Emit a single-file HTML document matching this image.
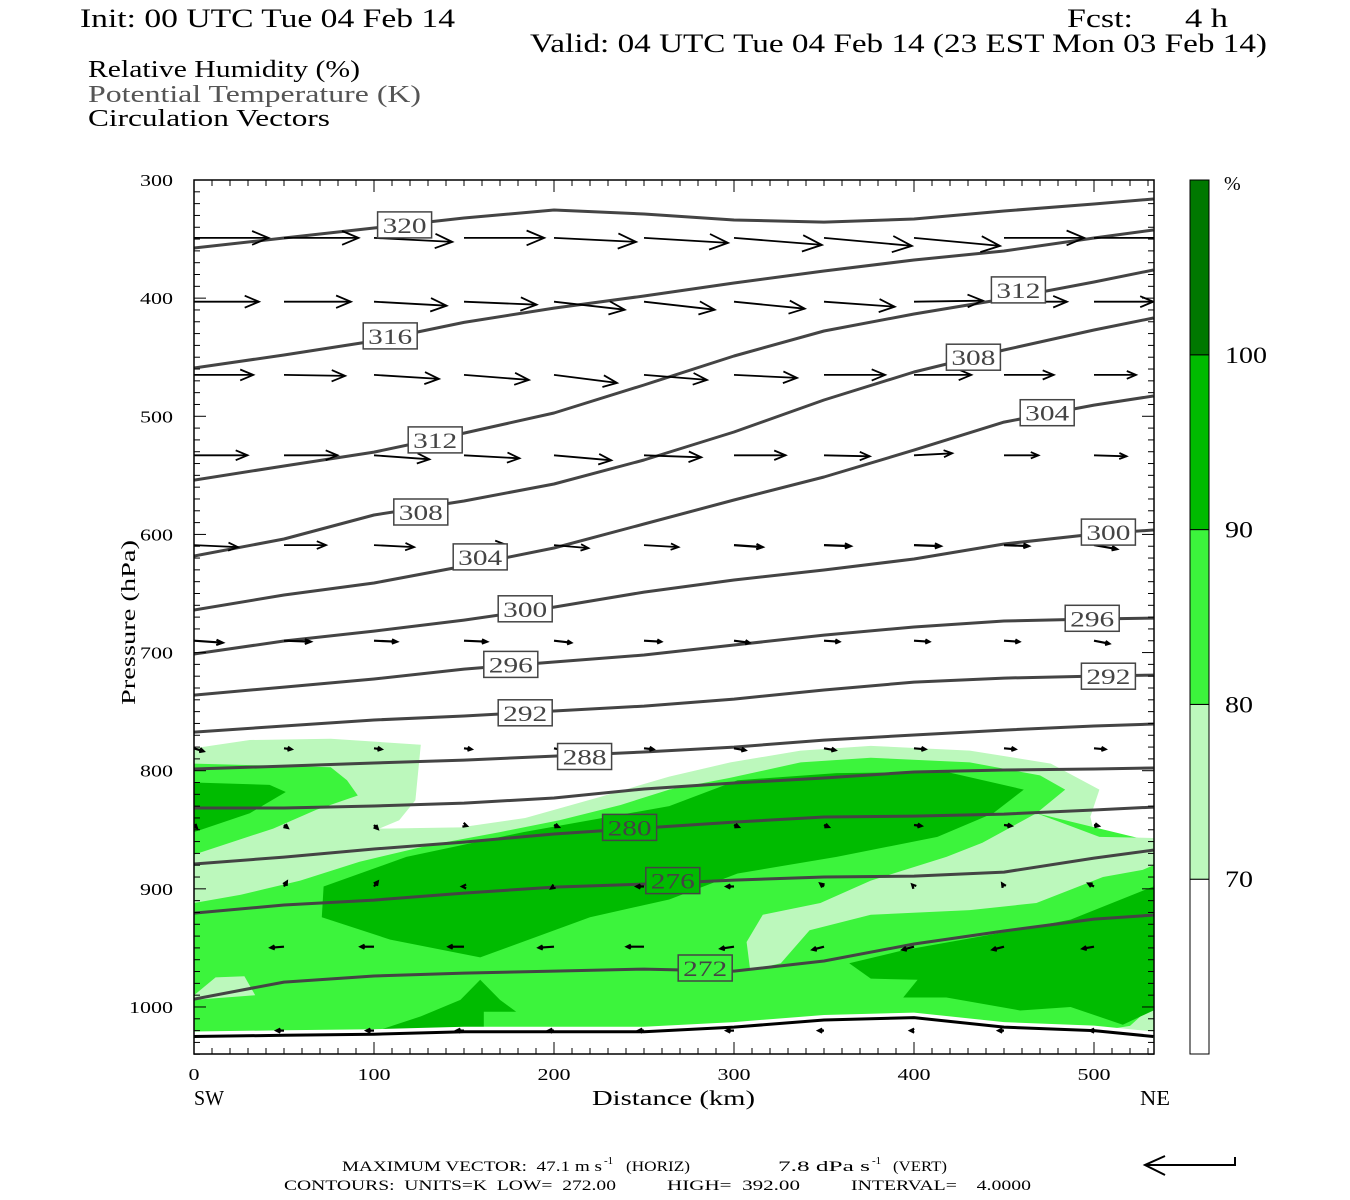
<!DOCTYPE html>
<html><head><meta charset="utf-8"><title>Cross section</title>
<style>
html,body{margin:0;padding:0;background:#fff;}
svg{display:block;font-family:"Liberation Serif",serif;}
svg text{white-space:pre;}
</style></head>
<body>
<svg id="chart" width="1350" height="1200" viewBox="0 0 1350 1200" xmlns="http://www.w3.org/2000/svg" xml:space="preserve">
<defs><clipPath id="plotclip"><rect x="194" y="180" width="960" height="874"/></clipPath></defs>
<g font-size="26" fill="#000">
<text x="80" y="27" textLength="375" lengthAdjust="spacingAndGlyphs">Init: 00 UTC Tue 04 Feb 14</text>
<text x="1067" y="27" textLength="66" lengthAdjust="spacingAndGlyphs">Fcst:</text>
<text x="1185" y="27" textLength="43" lengthAdjust="spacingAndGlyphs">4 h</text>
<text x="530" y="52" textLength="737" lengthAdjust="spacingAndGlyphs">Valid: 04 UTC Tue 04 Feb 14 (23 EST Mon 03 Feb 14)</text>
</g>
<g font-size="24">
<text x="88" y="77" textLength="272" lengthAdjust="spacingAndGlyphs">Relative Humidity (%)</text>
<text x="88" y="102" fill="#555" textLength="333" lengthAdjust="spacingAndGlyphs">Potential Temperature (K)</text>
<text x="88" y="126" textLength="242" lengthAdjust="spacingAndGlyphs">Circulation Vectors</text>
</g>
<g id="fills" clip-path="url(#plotclip)"></g>
<g id="contours" clip-path="url(#plotclip)"></g>
<g id="vectors" clip-path="url(#plotclip)"></g>
<g id="labels" clip-path="url(#plotclip)"></g>
<g id="axes"></g>
<g id="colorbar"></g>
<g>
<text x="592" y="1105" font-size="21" textLength="163" lengthAdjust="spacingAndGlyphs">Distance (km)</text>
<text x="194" y="1105" font-size="21" textLength="30" lengthAdjust="spacingAndGlyphs">SW</text>
<text x="1140" y="1105" font-size="21" textLength="30" lengthAdjust="spacingAndGlyphs">NE</text>
<text transform="translate(135,705) rotate(-90)" font-size="20" textLength="165" lengthAdjust="spacingAndGlyphs">Pressure (hPa)</text>
</g>
<g font-size="15">
<text x="342" y="1171" textLength="260" lengthAdjust="spacingAndGlyphs">MAXIMUM VECTOR:  47.1 m s</text>
<text x="604" y="1164" font-size="11">-1</text>
<text x="626" y="1171" textLength="64" lengthAdjust="spacingAndGlyphs">(HORIZ)</text>
<text x="778" y="1171" textLength="92" lengthAdjust="spacingAndGlyphs">7.8 dPa s</text>
<text x="872" y="1164" font-size="11">-1</text>
<text x="893" y="1171" textLength="54" lengthAdjust="spacingAndGlyphs">(VERT)</text>
<text x="284" y="1190" textLength="332" lengthAdjust="spacingAndGlyphs">CONTOURS:  UNITS=K  LOW=  272.00</text>
<text x="667" y="1190" textLength="133" lengthAdjust="spacingAndGlyphs">HIGH=  392.00</text>
<text x="851" y="1190" textLength="180" lengthAdjust="spacingAndGlyphs">INTERVAL=    4.0000</text>
<g stroke="#000" stroke-width="2" fill="none">
<polyline points="1235,1157 1235,1165 1145,1165"/>
<polyline points="1165,1156 1145,1165 1165,1175"/>
</g>
</g>
</svg>
<script>
// ---- axis data ----
const xTickKm = [0,100,200,300,400,500];
const yTickP = [300,400,500,600,700,800,900,1000];
const colKm = [0,50,100,150,200,250,300,350,400,450,500,533];
// ---- potential temperature contours (hPa at each colKm) ----
const thetaLevels = [320,316,312,308,304,300,296,292,288,284,280,276,272];
const p320 = [357.6,349.1,340.6,332.2,325.4,328.8,333.9,335.6,333,326.2,320.3,316.1];
const p316 = [459.1,448.1,436.3,420.5,408.4,398.2,387.2,377,367.7,360.1,349.1,342.3];
const p312 = [554,542.1,530.3,514.2,497.2,473.5,449,427.8,413.4,400.7,386.3,376.2];
const p308 = [618.3,603.9,583.6,571.7,557.3,537,513.3,486.2,462.5,443.9,427,416.8];
const p304 = [664,651.3,641.1,626.8,611.5,591.2,570.9,551.4,528.6,504.9,490.5,482.8];
const p300 = [701.2,690.2,681.8,672.5,661.5,648.8,638.6,630.1,620.8,608.1,599.7,596.3];
const p296 = [736,729.2,722.4,714,708,702.1,693.6,685.2,678.4,673.3,671.6,670.8];
const p292 = [767.3,762.2,757.1,753.7,749.5,745.3,739.4,731.7,725,721.6,719.9,719.1];
const p288 = [798.6,796.1,793.5,791,787.6,784.2,780,774.1,769.8,765.6,762.2,760.5];
const p284 = [831.6,831.6,829.9,827.4,823.1,815.5,810.4,806.2,801.1,799.4,798.6,797.7];
const p280 = [879,873.1,866.3,860.4,853.6,848.5,843.5,839.2,838.4,836.7,833.3,830.8];
const p276 = [920.5,913.7,909.5,903.6,898.5,896,892.6,890,889.2,885.8,874,867.2];
const p272 = [993.3,978.9,973.8,971.3,969.6,967.9,969.6,961.1,946.7,935.7,925.6,922.2];
const groundP = [1025,1024,1023,1021,1021,1021,1017,1011,1009,1017,1020,1025];
// contour labels: [theta, km, hPa]
const thetaLabels = [[320,117,338],[316,109,432],[312,134,520],[312,458,393],[308,126,581],[308,433,450],
 [304,159,619],[304,474,497],[300,184,663],[300,508,598],[296,176,710],[296,499,671],[292,184,751],[292,508,720],
 [288,217,788],[280,242,848],[276,266,893],[272,284,967]];
// ---- relative humidity filled regions: [km, hPa] vertices ----
const rh70Main = [[0,781],[31,774],[76,773],[126,778],[123,825],[114,842],[103,849],[148,848],[184,840],[226,822],[264,805],[298,793],[337,783],[376,779],[431,783],[476,794],[503,816],[498,839],[501,859],[533,861],[533,1030],[0,1030]];
const rh80Left = [[0,794],[76,797],[85,808],[91,821],[68,833],[44,849],[16,863],[0,871]];
const rh80Main = [[0,912],[26,905],[59,893],[92,877],[131,863],[170,852],[203,842],[237,829],[264,816],[298,806],[337,793],[376,789],[431,793],[470,804],[484,816],[468,836],[533,860],[533,1030],[0,1030]];
const rh70Band = [[533,857],[503,856],[468,836],[438,861],[418,873],[376,893],[348,912],[316,922],[307,945],[309,969],[326,963],[342,935],[376,922],[431,918],[468,912],[505,890],[527,884],[533,880]];
const rh70PatchLeft = [[0,990],[12,975],[28,974],[34,990],[0,994]];
const rh70PatchRight = [[533,998],[520,1016],[487,1024],[533,1026]];
const rh90Left = [[0,810],[42,812],[51,818],[31,836],[0,852]];
const rh90Center = [[72,898],[118,873],[183,852],[264,830],[302,808],[357,802],[418,801],[461,816],[444,836],[413,856],[357,873],[302,887],[264,909],[220,924],[159,958],[109,943],[71,924]];
const rh90Bottom = [[159,977],[170,994],[179,1004],[161,1004],[161,1022],[98,1022],[126,1008],[148,994]];
const rh90Right = [[364,963],[394,952],[449,937],[487,926],[533,898],[533,1003],[516,1015],[487,1000],[459,1003],[418,992],[394,992],[402,977],[376,976]];
// ---- circulation vectors ----
const vecP = [349,403,465,533,609,690,781,846,898,949,1020];
const vecKm = [0,50,100,150,200,250,300,350,400,450,500];
const u1=[39,39,41,42,43,44,46,46,45,42,45], w1=[0,0,0.4,0,0.4,0.5,0.7,0.8,0.8,0,0];
const u2=[34,35,38,38,37,37,37,37,36,33,31], w2=[0,0,0.4,0.3,0.8,0.8,0.7,0.5,-0.1,0,0];
const u3=[31,32,34,34,33,33,33,32,30,26,22], w3=[0,0.1,0.4,0.5,0.8,0.5,0.3,0,0,0,0];
const u4=[28,28,29,29,30,30,27,24,20,18,17], w4=[0,0,0.4,0.3,0.5,0.2,0,0.1,-0.2,0,0.1];
const u5=[23,22,21,21,18,18,15,14,14,13,12], w5=[0.2,0,0.2,-0.1,0.3,0.2,0.2,0.1,0.1,0.1,0.4];
const u6=[15,14,12,12,9,9,8,8,8,8,8], w6=[0.2,0.1,0.1,0.1,0.2,0.1,0.2,0.1,0.1,0.1,0.3];
const u7=[5,4,4,4,5,5,6,6,6,6,6], w7=[0.3,0.1,0.1,0.1,0.2,0.1,0.2,0.2,0.1,0.1,0.1];
const u8=[1.5,2,2,1.5,2.5,3.5,2.5,2.5,4,4,2.5], w8=[0.3,0.3,0.4,0.1,0.2,0.2,0.2,0.2,0.1,0.1,0.1];
const u9=[0,1.5,2,-1,-1.5,-4,-4,-2,-1,-1,-3], w9=[0,-0.5,-0.5,0,0.2,0,0,-0.3,-0.2,-0.3,-0.3];
const u10=[-8,-7,-7,-8,-8,-9,-7,-6,-6,-6,-6], w10=[0.1,0.1,0,0,0.1,0,0.2,0.3,0.3,0.3,0.2];
const u11=[0,-4,-4,-4,-3,-3,-4,-3,-2,-3,-2], w11=[0,0,0,0,0,0,0,0,0,0,0];
// ---- colorbar ----
const cbLevels = [70,80,90,100];

const NS='http://www.w3.org/2000/svg';
const X0=194, KMPX=1.8, Y0=180, PPX=1.1814;
function xAt(km){return X0+km*KMPX;}
function yAt(p){return Y0+(p-300)*PPX;}
function mk(tag,attrs,parent){const e=document.createElementNS(NS,tag);for(const k in attrs)e.setAttribute(k,attrs[k]);parent.appendChild(e);return e;}

// fills
const fillG=document.getElementById('fills');
const COL70='#bcf8bc', COL80='#3cf43c', COL90='#00bb00';
const polys=[['rh-70-main',rh70Main,COL70],['rh-80-left',rh80Left,COL80],['rh-80-main',rh80Main,COL80],
 ['rh-70-band',rh70Band,COL70],['rh-70-patch-left',rh70PatchLeft,COL70],['rh-70-patch-right',rh70PatchRight,COL70],
 ['rh-90-left',rh90Left,COL90],['rh-90-center',rh90Center,COL90],['rh-90-bottom',rh90Bottom,COL90],['rh-90-right',rh90Right,COL90]];
polys.forEach(function(pp){
 const pts=pp[1].map(function(v){return xAt(v[0]).toFixed(1)+','+yAt(v[1]).toFixed(1);}).join(' ');
 const el=mk('polygon',{points:pts,fill:pp[2]},fillG);
 
 
});
// white below-ground mask (small gap above ground line)
const maskPts=groundP.map(function(p,j){return xAt(colKm[j]).toFixed(1)+','+(yAt(p)-5).toFixed(1);});
maskPts.push(xAt(533)+','+1054, xAt(0)+','+1054);
const mask=mk('polygon',{points:maskPts.join(' '),fill:'#fff'},fillG);



// contours
const conG=document.getElementById('contours');
const thetaSeries=[p320,p316,p312,p308,p304,p300,p296,p292,p288,p284,p280,p276,p272];
thetaSeries.forEach(function(arr,i){
 const pts=arr.map(function(p,j){return xAt(colKm[j]).toFixed(1)+','+yAt(p).toFixed(1);}).join(' ');
 const el=mk('polyline',{points:pts,fill:'none',stroke:'#444','stroke-width':3,'stroke-linejoin':'round'},conG);
 
 
});
const gpts=groundP.map(function(p,j){return xAt(colKm[j]).toFixed(1)+','+yAt(p).toFixed(1);}).join(' ');
const ground=mk('polyline',{points:gpts,fill:'none',stroke:'#000','stroke-width':3},conG);



// vectors
const vecG=document.getElementById('vectors');
const uRows=[u1,u2,u3,u4,u5,u6,u7,u8,u9,u10,u11], wRows=[w1,w2,w3,w4,w5,w6,w7,w8,w9,w10,w11];
const USC=1.91, WSC=10;
uRows.forEach(function(ur,r){
 ur.forEach(function(u,c){
  const x0=xAt(vecKm[c]), y0=yAt(vecP[r]);
  const dx=u*USC, dy=wRows[r][c]*WSC;
  const L=Math.sqrt(dx*dx+dy*dy);
  if(L<1.5)return;
  const x1=x0+dx, y1=y0+dy, ux=dx/L, uy=dy/L;
  const h=Math.max(4,0.22*L), hw=Math.max(2,h*0.42);
  const bx=x1-ux*h, by=y1-uy*h;
  const g=mk('g',{stroke:'#000','stroke-width':L>30?1.8:2.2,fill:'none'},vecG);
  
  
  mk('line',{x1:x0.toFixed(1),y1:y0.toFixed(1),x2:x1.toFixed(1),y2:y1.toFixed(1)},g);
  mk('polyline',{points:(bx-uy*hw).toFixed(1)+','+(by+ux*hw).toFixed(1)+' '+x1.toFixed(1)+','+y1.toFixed(1)+' '+(bx+uy*hw).toFixed(1)+','+(by-ux*hw).toFixed(1)},g);
 });
});

// contour labels (drawn over vectors)
const labG=document.getElementById('labels');
const labFill={280:COL90,276:COL90,272:COL80};
thetaLabels.forEach(function(l){
 const cx=xAt(l[1]), cy=yAt(l[2]);
 const g=mk('g',{},labG);
 
 
 mk('rect',{x:(cx-27).toFixed(1),y:(cy-13).toFixed(1),width:54,height:26,fill:labFill[l[0]]||'#fff',stroke:'#444','stroke-width':1.5},g);
 const t=mk('text',{x:(cx-22).toFixed(1),y:(cy+8).toFixed(1),'font-size':22,fill:'#444',textLength:44,lengthAdjust:'spacingAndGlyphs'},g);
 t.textContent=String(l[0]);
});

// axes
const ax=document.getElementById('axes');
const frame=mk('rect',{x:194,y:180,width:960,height:874,fill:'none',stroke:'#000','stroke-width':1.5},ax);


for(let km=0;km<=533;km+=10){
 const x=xAt(km), len=(km%100===0)?12:6;
 mk('line',{x1:x,y1:1054,x2:x,y2:1054-len,stroke:'#000','stroke-width':1},ax);
 mk('line',{x1:x,y1:180,x2:x,y2:180+len,stroke:'#000','stroke-width':1},ax);
}
for(let p=300;p<=1040;p+=10){
 const y=yAt(p), len=(p%100===0)?12:6;
 mk('line',{x1:194,y1:y,x2:194+len,y2:y,stroke:'#000','stroke-width':1},ax);
 mk('line',{x1:1154,y1:y,x2:1154-len,y2:y,stroke:'#000','stroke-width':1},ax);
}
xTickKm.forEach(function(km){
 const s=String(km), w=s.length*11;
 const t=mk('text',{x:(xAt(km)-w/2).toFixed(1),y:1080,'font-size':17,textLength:w,lengthAdjust:'spacingAndGlyphs'},ax);
 
 
 t.textContent=s;
});
yTickP.forEach(function(p){
 const s=String(p), w=s.length*11;
 const t=mk('text',{x:173-w,y:(yAt(p)+6).toFixed(1),'font-size':17,textLength:w,lengthAdjust:'spacingAndGlyphs'},ax);
 
 
 t.textContent=s;
});

// colorbar
const cb=document.getElementById('colorbar');
const segCols=['#fff',COL70,COL80,COL90,'#007800'];
const segH=874/5;
segCols.forEach(function(c,i){
 const y=1054-(i+1)*segH;
 const r=mk('rect',{x:1190,y:y.toFixed(1),width:19,height:segH.toFixed(1),fill:c,stroke:'#000','stroke-width':1},cb);
 
 
});
cbLevels.forEach(function(v,i){
 const y=1054-(i+1)*segH;
 const s=String(v), w=s.length*14;
 const t=mk('text',{x:1225,y:(y+8).toFixed(1),'font-size':23,textLength:w,lengthAdjust:'spacingAndGlyphs'},cb);
 
 
 t.textContent=s;
});
const pct=mk('text',{x:1224,y:190,'font-size':20},cb);


pct.textContent='%';
</script>
</body></html>
